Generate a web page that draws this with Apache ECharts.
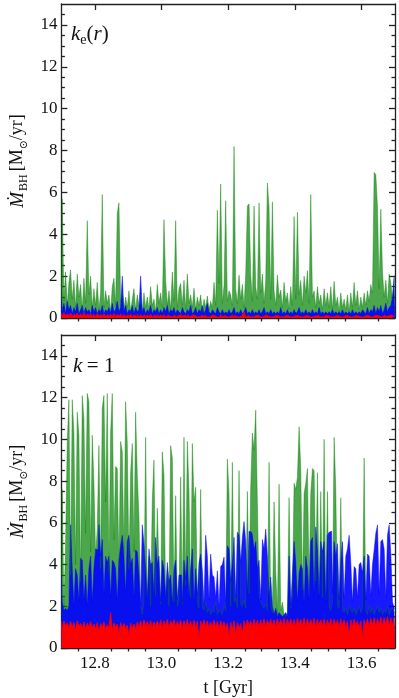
<!DOCTYPE html>
<html>
<head>
<meta charset="utf-8">
<script src="https://cdn.jsdelivr.net/npm/echarts@6/dist/echarts.min.js"></script>
<style>
  html, body { margin: 0; padding: 0; background: #fff; }
  #chart { width: 399px; height: 698px; }
</style>
</head>
<body>
<div id="chart"></div>
<script>
// sampling grid of the accretion-rate curves (Gyr)
var tStart = 12.7, tStep = 0.005;

// upper panel, k_e(r)
var greenTop = [
  1.2, 5.7, 0.8, 2.2, 0.6, 1.7, 2.3, 0.9, 1.8, 0.5, 2.1, 1.0, 1.6, 0.4, 1.9, 0.7, 4.65, 1.1, 2.0, 0.5,
  1.4, 0.6, 1.7, 0.4, 1.2, 5.9, 0.5, 1.3, 0.7, 1.1, 0.3, 1.5, 1.9, 0.6, 5.0, 5.5, 0.8, 1.2, 0.4, 1.0,
  0.5, 1.3, 0.3, 0.9, 1.4, 0.4, 1.1, 0.6, 0.8, 0.3, 1.2, 0.5, 1.0, 0.4, 1.5, 0.6, 0.9, 0.3, 1.6, 0.7,
  1.2, 0.5, 4.7, 1.8, 0.6, 1.3, 0.4, 2.2, 0.8, 4.65, 0.5, 1.4, 1.65, 0.6, 1.8, 0.4, 2.1, 0.7, 1.1, 0.5,
  1.42, 0.4, 1.0, 0.6, 1.1, 0.3, 0.9, 0.5, 1.05, 0.4, 0.8, 0.5, 1.7, 0.6, 5.15, 1.65, 6.4, 0.7, 1.55, 5.6,
  0.8, 1.3, 1.1, 0.6, 8.2, 1.4, 0.7, 2.05, 0.9, 1.6, 0.5, 2.1, 5.35, 5.45, 2.1, 0.8, 5.35, 1.5, 0.9, 5.5,
  1.2, 2.1, 0.7, 1.8, 6.45, 5.25, 0.9, 5.55, 1.3, 0.6, 2.05, 1.0, 1.34, 0.5, 1.7, 0.8, 1.2, 0.4, 1.5, 0.6,
  4.85, 0.9, 5.05, 1.1, 1.8, 0.6, 2.0, 1.2, 2.26, 0.7, 5.9, 1.0, 1.3, 0.5, 1.5, 0.7, 1.1, 0.4, 1.4, 0.6,
  1.2, 0.5, 1.5, 0.4, 1.75, 0.6, 1.0, 0.3, 1.2, 0.5, 0.9, 0.4, 1.1, 0.3, 1.2, 0.5, 1.7, 0.6, 1.3, 0.4,
  1.0, 0.5, 1.2, 0.6, 1.3, 0.8, 1.6, 1.2, 6.95, 6.85, 5.3, 1.4, 5.2, 2.2, 1.0, 1.8, 0.7, 2.1, 1.65, 0.9,
  1.9
];
var blueTop = [
  0.9, 0.3, 0.7, 0.2, 0.8, 0.4, 0.6, 0.2, 0.5, 0.3, 0.7, 0.2, 0.4, 0.6, 0.2, 0.5, 0.3, 0.4, 0.2, 0.6,
  0.3, 0.5, 0.2, 0.4, 0.3, 0.6, 0.2, 0.4, 0.3, 0.5, 0.2, 0.7, 0.3, 0.4, 0.8, 0.3, 0.5, 2.0, 0.3, 0.6,
  0.2, 0.4, 0.3, 0.6, 0.2, 0.5, 0.3, 0.4, 2.0, 0.3, 0.5, 0.2, 0.4, 0.3, 0.6, 0.2, 0.4, 0.3, 0.5, 0.2,
  0.4, 0.2, 0.5, 0.3, 0.6, 0.2, 0.4, 0.3, 0.5, 0.2, 0.4, 0.3, 0.2, 0.5, 0.3, 0.2, 0.4, 0.3, 0.6, 0.2,
  0.3, 0.5, 0.2, 0.4, 0.3, 0.6, 0.2, 0.4, 0.7, 0.3, 0.2, 0.4, 0.3, 0.2, 0.5, 0.3, 0.2, 0.4, 0.2, 0.3,
  0.2, 0.4, 0.2, 0.3, 0.5, 0.2, 0.3, 0.2, 0.4, 0.2, 0.3, 0.5, 0.2, 0.3, 0.2, 0.4, 0.2, 0.3, 0.2, 0.4,
  0.2, 0.3, 0.5, 0.2, 0.3, 0.2, 0.4, 0.2, 0.3, 0.2, 0.3, 0.2, 0.5, 0.2, 0.3, 0.2, 0.4, 0.2, 0.3, 0.2,
  0.4, 0.2, 0.3, 0.5, 0.2, 0.3, 0.2, 0.4, 0.2, 0.3, 0.2, 0.4, 0.2, 0.3, 0.2, 0.5, 0.2, 0.3, 0.2, 0.3,
  0.2, 0.3, 0.2, 0.4, 0.2, 0.3, 0.2, 0.3, 0.2, 0.4, 0.2, 0.3, 0.2, 0.3, 0.2, 0.4, 0.2, 0.3, 0.2, 0.3,
  0.2, 0.4, 0.3, 0.2, 0.5, 0.2, 0.4, 0.3, 0.6, 0.2, 0.5, 0.3, 0.6, 0.2, 0.4, 0.7, 0.3, 0.5, 0.6, 1.0,
  2.0
];
var redTop = [
  0.22, 0.08, 0.25, 0.12, 0.2, 0.06, 0.24, 0.1, 0.18, 0.07, 0.23, 0.09, 0.2, 0.06, 0.26, 0.1, 0.19, 0.08, 0.22, 0.07,
  0.18, 0.06, 0.21, 0.09, 0.17, 0.05, 0.2, 0.08, 0.16, 0.06, 0.19, 0.07, 0.22, 0.05, 0.18, 0.08, 0.2, 0.06, 0.17, 0.07,
  0.16, 0.05, 0.19, 0.07, 0.15, 0.06, 0.18, 0.05, 0.17, 0.07, 0.15, 0.05, 0.16, 0.06, 0.18, 0.05, 0.14, 0.06, 0.17, 0.05,
  0.15, 0.06, 0.17, 0.05, 0.14, 0.07, 0.16, 0.05, 0.15, 0.06, 0.13, 0.05, 0.16, 0.06, 0.14, 0.05, 0.15, 0.06, 0.13, 0.05,
  0.14, 0.05, 0.12, 0.06, 0.15, 0.05, 0.13, 0.06, 0.12, 0.05, 0.14, 0.06, 0.12, 0.05, 0.13, 0.05, 0.16, 0.06, 0.12, 0.05,
  0.13, 0.06, 0.15, 0.05, 0.12, 0.06, 0.14, 0.05, 0.13, 0.06, 0.3, 0.05, 0.12, 0.06, 0.14, 0.05, 0.12, 0.06, 0.13, 0.05,
  0.12, 0.05, 0.14, 0.06, 0.11, 0.05, 0.13, 0.06, 0.12, 0.05, 0.11, 0.06, 0.13, 0.05, 0.12, 0.06, 0.11, 0.05, 0.13, 0.06,
  0.12, 0.05, 0.11, 0.06, 0.13, 0.05, 0.12, 0.06, 0.11, 0.05, 0.12, 0.06, 0.1, 0.05, 0.12, 0.06, 0.11, 0.05, 0.12, 0.06,
  0.11, 0.05, 0.12, 0.06, 0.1, 0.05, 0.12, 0.06, 0.11, 0.05, 0.13, 0.06, 0.1, 0.05, 0.11, 0.06, 0.12, 0.05, 0.1, 0.06,
  0.12, 0.05, 0.11, 0.06, 0.13, 0.05, 0.12, 0.06, 0.14, 0.05, 0.12, 0.06, 0.13, 0.05, 0.15, 0.06, 0.12, 0.05, 0.14, 0.06,
  0.13
];

// lower panel, k = 1
var greenBot = [
  2.5, 7.6, 1.9, 5.0, 9.8, 11.9, 3.5, 11.9, 10.3, 4.0, 11.3, 10.2, 3.2, 12.1, 11.0, 5.5, 12.2, 11.8, 4.6, 10.2,
  7.9, 4.4, 5.7, 9.7, 3.8, 11.5, 12.1, 7.0, 12.2, 3.6, 10.3, 12.2, 5.2, 8.7, 8.6, 3.9, 9.9, 9.4, 4.5, 11.8,
  9.8, 3.8, 8.4, 9.8, 4.6, 11.3, 8.3, 6.3, 2.0, 1.6, 2.2, 10.1, 2.4, 4.4, 2.0, 7.1, 9.0, 2.5, 6.7, 3.8,
  2.1, 9.4, 8.3, 2.4, 3.8, 2.0, 9.7, 9.1, 2.2, 7.3, 2.0, 2.3, 8.2, 2.1, 10.1, 3.0, 9.9, 7.5, 2.4, 9.8,
  7.0, 7.7, 2.2, 1.9, 7.6, 2.0, 1.8, 2.2, 1.7, 1.9, 1.6, 1.8, 1.7, 2.2, 1.6, 1.8, 1.7, 1.6, 2.0, 1.8,
  9.05, 7.4, 2.0, 8.9, 2.2, 2.4, 1.9, 8.5, 2.1, 2.0, 2.3, 1.9, 7.5, 2.6, 7.7, 10.3, 9.5, 11.4, 7.0, 2.5,
  2.2, 2.0, 1.9, 2.1, 1.8, 8.9, 2.0, 1.7, 7.0, 3.7, 1.6, 7.85, 1.8, 2.2, 1.6, 1.5, 1.7, 7.2, 1.9, 2.5,
  7.9, 7.6, 8.2, 10.6, 8.6, 2.8, 7.4, 7.9, 8.6, 3.0, 7.4, 8.6, 8.5, 3.2, 8.4, 2.6, 7.5, 2.4, 10.0, 2.3,
  7.5, 2.0, 1.8, 2.2, 10.1, 7.6, 2.0, 1.9, 7.2, 1.8, 1.7, 1.9, 1.6, 2.0, 1.8, 1.7, 1.9, 1.6, 1.8, 2.0,
  1.7, 1.9, 9.1, 1.8, 1.6, 2.0, 1.7, 1.9, 1.6, 1.8, 2.0, 1.7, 1.9, 1.6, 1.8, 1.7, 2.0, 1.6, 1.8, 1.9,
  1.7
];
var blueBot = [
  3.5, 2.2, 1.8, 1.9, 1.8, 2.0, 5.9, 3.8, 2.0, 3.8, 3.5, 2.2, 4.3, 4.2, 2.3, 3.5, 2.0, 3.8, 4.4, 2.2,
  3.8, 4.75, 4.7, 5.9, 4.4, 5.2, 2.5, 4.4, 4.1, 4.4, 2.4, 4.2, 4.1, 3.8, 2.2, 4.2, 4.9, 5.4, 4.4, 2.6,
  5.1, 5.4, 4.0, 4.3, 2.4, 4.7, 4.6, 3.5, 2.0, 5.9, 5.0, 3.8, 2.3, 4.75, 4.0, 4.1, 2.5, 5.3, 4.0, 4.4,
  2.2, 4.2, 3.8, 2.4, 4.1, 3.2, 3.5, 2.1, 3.8, 4.2, 2.3, 3.5, 3.5, 2.2, 4.2, 3.3, 4.4, 2.4, 3.8, 4.75,
  2.2, 3.8, 2.5, 4.1, 4.5, 3.7, 2.1, 5.4, 4.4, 2.3, 4.5, 3.5, 3.4, 2.4, 3.7, 2.0, 3.9, 4.0, 4.35, 2.2,
  4.9, 4.75, 3.2, 4.1, 5.3, 2.4, 5.55, 5.4, 4.1, 5.3, 6.06, 5.1, 2.6, 5.6, 5.55, 5.4, 4.7, 5.1, 3.8, 4.2,
  2.3, 5.2, 4.75, 5.7, 4.4, 2.4, 3.4, 2.0, 1.6, 1.9, 1.5, 1.7, 1.6, 1.5, 1.6, 1.7, 1.5, 4.4, 2.0, 3.6,
  5.1, 4.1, 2.2, 3.6, 4.0, 3.8, 2.1, 4.4, 3.8, 2.3, 5.1, 5.3, 2.5, 5.8, 4.75, 2.4, 5.1, 4.6, 5.1, 2.2,
  5.4, 5.55, 5.6, 2.6, 5.1, 4.4, 5.0, 2.3, 4.2, 5.1, 2.4, 4.4, 4.75, 5.4, 4.1, 2.2, 3.9, 3.8, 2.4, 4.0,
  4.1, 3.6, 4.4, 2.3, 4.5, 4.4, 2.5, 4.0, 4.7, 5.5, 5.9, 2.6, 5.1, 5.2, 4.75, 2.4, 5.4, 5.9, 4.5, 2.2,
  1.9
];
var redBot = [
  1.25, 0.9, 1.3, 1.05, 1.2, 0.95, 1.28, 1.0, 1.22, 0.85, 1.3, 1.05, 1.18, 0.95, 1.25, 0.9, 1.2, 1.0, 1.27, 0.95,
  1.15, 0.9, 1.22, 0.8, 1.18, 1.0, 1.25, 0.9, 1.12, 0.95, 1.7, 0.85, 1.2, 1.0, 1.15, 0.7, 1.22, 0.95, 1.18, 0.9,
  1.1, 0.6, 1.2, 0.95, 1.15, 0.9, 1.25, 1.0, 1.3, 0.95, 1.35, 1.05, 1.28, 1.0, 1.32, 0.95, 1.25, 1.05, 1.3, 1.0,
  1.35, 1.0, 1.3, 1.05, 1.38, 0.95, 1.3, 1.1, 1.35, 1.0, 1.28, 1.05, 1.33, 0.95, 1.3, 1.05, 1.36, 1.0, 1.3, 0.95,
  1.32, 1.0, 1.28, 0.45, 1.3, 1.05, 1.35, 1.0, 1.3, 0.95, 1.25, 1.05, 1.32, 1.0, 1.28, 0.9, 1.3, 1.0, 1.25, 0.95,
  1.2, 0.5, 1.25, 0.9, 1.3, 0.6, 1.22, 0.95, 1.18, 0.7, 1.3, 1.0, 1.35, 1.05, 1.3, 1.0, 1.38, 1.05, 1.32, 1.0,
  1.35, 1.05, 1.4, 1.0, 1.33, 1.1, 1.38, 1.05, 1.35, 1.0, 1.4, 1.1, 1.36, 1.05, 1.42, 1.0, 1.38, 1.1, 1.4, 1.05,
  1.36, 1.0, 1.42, 1.1, 1.38, 1.05, 1.45, 1.0, 1.4, 1.1, 1.36, 1.05, 1.42, 1.0, 1.38, 1.1, 1.35, 1.05, 1.4, 1.0,
  1.35, 1.05, 1.4, 1.0, 1.38, 1.1, 1.33, 1.0, 1.4, 1.05, 1.35, 0.95, 1.3, 0.6, 1.35, 1.0, 1.38, 1.05, 1.3, 0.95,
  1.3, 0.5, 1.35, 1.05, 1.4, 1.0, 1.42, 1.1, 1.45, 1.05, 1.4, 1.1, 1.48, 1.05, 1.45, 1.1, 1.5, 1.05, 1.45, 1.1,
  1.48
];

// tick positions
var xMajor = [12.8, 13.0, 13.2, 13.4, 13.6];
var xMinor = [12.75, 12.85, 12.9, 12.95, 13.05, 13.1, 13.15, 13.25, 13.3, 13.35, 13.45, 13.5, 13.55, 13.65];
var yMajor = [0, 2, 4, 6, 8, 10, 12, 14];
var yMinor = [0.5, 1, 1.5, 2.5, 3, 3.5, 4.5, 5, 5.5, 6.5, 7, 7.5, 8.5, 9, 9.5, 10.5, 11, 11.5, 12.5, 13, 13.5, 14.5];

var FONT = "'Liberation Serif', 'DejaVu Serif', serif";
var frame = { color: '#222', width: 1.3 };

function pairs(vals) {
  return vals.map(function (v, i) { return [+(tStart + i * tStep).toFixed(4), v]; });
}

function xAxes(g, withLabels) {
  var base = { gridIndex: g, type: 'value', min: 12.7, max: 13.7, splitLine: { show: false } };
  return [
    Object.assign({}, base, {
      position: 'bottom',
      axisLine: { show: true, onZero: false, lineStyle: frame },
      axisTick: { show: true, inside: true, length: 6, customValues: xMajor, lineStyle: frame },
      axisLabel: { show: withLabels, customValues: xMajor, margin: 7, color: '#111', fontSize: 17, fontFamily: FONT,
        formatter: function (v) { return v.toFixed(1); } },
      name: withLabels ? 't [Gyr]' : '', nameLocation: 'middle', nameGap: 31,
      nameTextStyle: { color: '#111', fontSize: 18, fontFamily: FONT }
    }),
    Object.assign({}, base, {
      position: 'bottom',
      axisLine: { show: false },
      axisTick: { show: true, inside: true, length: 3.5, customValues: xMinor, lineStyle: frame },
      axisLabel: { show: false }
    }),
    Object.assign({}, base, {
      position: 'top',
      axisLine: { show: true, onZero: false, lineStyle: frame },
      axisTick: { show: true, inside: true, length: 6, customValues: xMajor, lineStyle: frame },
      axisLabel: { show: false }
    }),
    Object.assign({}, base, {
      position: 'top',
      axisLine: { show: false },
      axisTick: { show: true, inside: true, length: 3.5, customValues: xMinor, lineStyle: frame },
      axisLabel: { show: false }
    })
  ];
}

function yAxes(g) {
  var base = { gridIndex: g, type: 'value', min: 0, max: 15, splitLine: { show: false } };
  return [
    Object.assign({}, base, {
      position: 'left',
      axisLine: { show: true, onZero: false, lineStyle: frame },
      axisTick: { show: true, inside: true, length: 6, customValues: yMajor, lineStyle: frame },
      axisLabel: { show: true, customValues: yMajor, margin: 4, color: '#111', fontSize: 17, fontFamily: FONT },
      name: '{m|Ṁ}{s|BH} {n|[M}{o|⊙}{n|/yr]}',
      nameLocation: 'middle', nameRotate: 90, nameGap: 26,
      nameTextStyle: {
        fontFamily: FONT, color: '#111',
        rich: {
          m: { fontSize: 19, fontStyle: 'italic', fontFamily: FONT, color: '#111', lineHeight: 24 },
          s: { fontSize: 12, fontFamily: FONT, color: '#111', verticalAlign: 'bottom', lineHeight: 24, padding: [0, 0, 0, 1] },
          n: { fontSize: 18, fontFamily: FONT, color: '#111', lineHeight: 24 },
          o: { fontSize: 11, fontFamily: FONT, color: '#111', verticalAlign: 'bottom', lineHeight: 24 }
        }
      }
    }),
    Object.assign({}, base, {
      position: 'left',
      axisLine: { show: false },
      axisTick: { show: true, inside: true, length: 3.5, customValues: yMinor, lineStyle: frame },
      axisLabel: { show: false }
    }),
    Object.assign({}, base, {
      position: 'right',
      axisLine: { show: true, onZero: false, lineStyle: frame },
      axisTick: { show: true, inside: true, length: 6, customValues: yMajor, lineStyle: frame },
      axisLabel: { show: false }
    }),
    Object.assign({}, base, {
      position: 'right',
      axisLine: { show: false },
      axisTick: { show: true, inside: true, length: 3.5, customValues: yMinor, lineStyle: frame },
      axisLabel: { show: false }
    })
  ];
}

// stepped line plus the fill underneath it: each sample becomes a thin column,
// so the dense signal reads as spikes over a solid band
function trace(vals, axis, color, fill) {
  return {
    type: 'line', xAxisIndex: axis, yAxisIndex: axis, data: pairs(vals),
    step: 'middle', symbol: 'none', sampling: null, silent: true,
    lineStyle: { color: color, width: 0.8 },
    areaStyle: { color: fill, opacity: 1, origin: 'start' }
  };
}

var plain = { fontFamily: FONT, fontWeight: 'normal', color: '#111', lineHeight: 26 };
function st(extra) { return Object.assign({}, plain, extra); }

var chart = echarts.init(document.getElementById('chart'), null, { renderer: 'canvas' });
chart.setOption({
  animation: false,
  backgroundColor: '#fff',
  grid: [
    { left: 53, right: 4, top: 4, height: 314 },
    { left: 53, right: 4, top: 335, height: 314.5 }
  ],
  title: [
    { text: '{k|k}{e|e}{p|(}{r|r}{p|)}', left: 66, top: 16,
      textStyle: { fontFamily: FONT, fontWeight: 'normal', rich: {
        k: st({ fontSize: 21, fontStyle: 'italic' }),
        e: st({ fontSize: 14, verticalAlign: 'bottom' }),
        p: st({ fontSize: 21 }),
        r: st({ fontSize: 21, fontStyle: 'italic' })
      } } },
    { text: '{k|k} {p|= 1}', left: 68, top: 348,
      textStyle: { fontFamily: FONT, fontWeight: 'normal', rich: {
        k: st({ fontSize: 21, fontStyle: 'italic' }),
        p: st({ fontSize: 21 })
      } } }
  ],
  xAxis: xAxes(0, false).concat(xAxes(1, true)),
  yAxis: yAxes(0).concat(yAxes(1)),
  series: [
    trace(greenTop, 0, 'rgba(0,128,0,0.5)', 'rgba(0,128,0,0.7)'),
    trace(blueTop, 0, 'rgba(0,0,255,0.6)', 'rgba(0,0,255,0.9)'),
    trace(redTop, 0, '#ff0000', '#ff0000'),
    trace(greenBot, 4, 'rgba(0,128,0,0.5)', 'rgba(0,128,0,0.7)'),
    trace(blueBot, 4, 'rgba(0,0,255,0.6)', 'rgba(0,0,255,0.9)'),
    trace(redBot, 4, '#ff0000', '#ff0000')
  ]
});
</script>
</body>
</html>
